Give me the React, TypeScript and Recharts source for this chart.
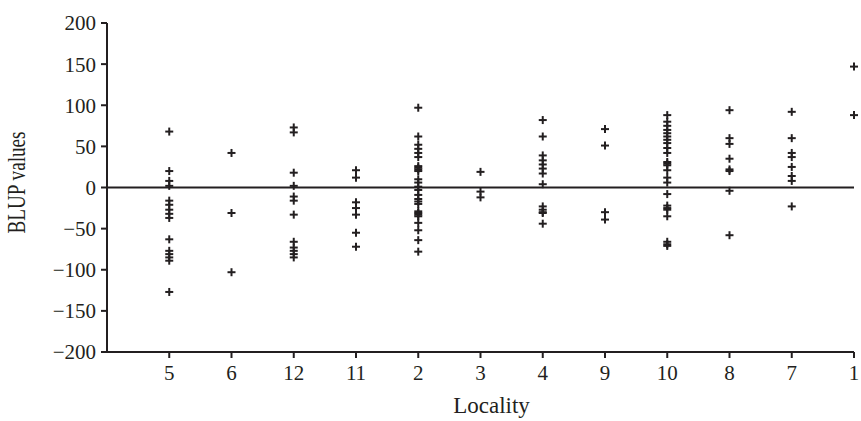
import React from "react";
import {
  ScatterChart,
  Scatter,
  XAxis,
  YAxis,
  ReferenceLine,
} from "recharts";

// locality order along the x axis
const localities = ["5", "6", "12", "11", "2", "3", "4", "9", "10", "8", "7", "1"];

// BLUP values per locality
const loc5 = [68, 20, 8, 2, -16, -21, -27, -32, -37, -63, -77, -81, -85, -89, -127];
const loc6 = [42, -31, -103];
const loc12 = [73, 67, 18, 2, -11, -16, -33, -66, -73, -77, -81, -85];
const loc11 = [21, 12, -18, -25, -33, -55, -72];
const loc2 = [
  97, 62, 52, 47, 42, 37, 26, 24, 22, 20, 10, 6, 1, -3, -9, -14, -17, -20, -29,
  -31, -33, -35, -43, -52, -64, -78,
];
const loc3 = [19, -5, -12];
const loc4 = [82, 62, 39, 33, 28, 23, 17, 4, -23, -27, -30, -31, -44];
const loc9 = [71, 51, -30, -39];
const loc10 = [
  88, 80, 75, 70, 66, 62, 58, 54, 48, 42, 31, 29, 27, 21, 12, 6, -8, -22, -25,
  -27, -35, -66, -69, -71,
];
const loc8 = [94, 60, 53, 35, 22, 20, -4, -58];
const loc7 = [92, 60, 42, 37, 25, 14, 8, -23];
const loc1 = [147, 88];

const blup = [loc5, loc6, loc12, loc11, loc2, loc3, loc4, loc9, loc10, loc8, loc7, loc1];

const yTicks = [-200, -150, -100, -50, 0, 50, 100, 150, 200];

const points = localities.flatMap((_, i) =>
  blup[i].map((v) => ({ x: i + 1, y: v }))
);

const ink = "#231f20";
const font = "'Liberation Serif', 'Times New Roman', serif";

const Plus = (props: any) => {
  const { cx, cy } = props;
  if (cx == null || cy == null) return null;
  return (
    <g stroke={ink} strokeWidth={2}>
      <line x1={cx - 4} y1={cy} x2={cx + 4} y2={cy} />
      <line x1={cx} y1={cy - 4} x2={cx} y2={cy + 4} />
    </g>
  );
};

// the source's axis title is condensed along its length
const YLabel = (props: any) => {
  const { viewBox } = props;
  const cx = 25;
  const cy = viewBox.y + viewBox.height / 2 - 5;
  return (
    <text
      x={cx}
      y={cy}
      transform={`rotate(-90 ${cx} ${cy})`}
      textAnchor="middle"
      fill={ink}
      fontSize={25}
      fontFamily={font}
      textLength={102}
      lengthAdjust="spacingAndGlyphs"
    >
      BLUP values
    </text>
  );
};

const XLabel = (props: any) => {
  const { viewBox } = props;
  const cx = viewBox.x + viewBox.width / 2 + 11;
  return (
    <text
      x={cx}
      y={413}
      textAnchor="middle"
      fill={ink}
      fontSize={23}
      fontFamily={font}
    >
      Locality
    </text>
  );
};

const App = () => {
  return (
    <div style={{ position: "absolute", left: 0, top: 0, background: "#fff" }}>
      <ScatterChart
        width={861}
        height={421}
        margin={{ top: 23, right: 7, bottom: 0, left: 0 }}
      >
        <XAxis
          type="number"
          dataKey="x"
          domain={[0, 12]}
          ticks={[1, 2, 3, 4, 5, 6, 7, 8, 9, 10, 11, 12]}
          tickFormatter={(v) => localities[v - 1]}
          height={69}
          axisLine={{ stroke: ink, strokeWidth: 2 }}
          tickLine={{ stroke: ink, strokeWidth: 2 }}
          tickSize={6}
          tickMargin={7}
          tick={{ fill: ink, fontSize: 21, fontFamily: font }}
          label={<XLabel />}
        />
        <YAxis
          type="number"
          dataKey="y"
          domain={[-200, 200]}
          ticks={yTicks}
          width={107}
          interval={0}
          axisLine={{ stroke: ink, strokeWidth: 2 }}
          tickLine={{ stroke: ink, strokeWidth: 2 }}
          tickSize={6}
          tickMargin={5}
          tickFormatter={(v) => (v < 0 ? "\u2212" + Math.abs(v) : String(v))}
          tick={{ fill: ink, fontSize: 21, fontFamily: font }}
          label={<YLabel />}
        />
        <ReferenceLine y={0} stroke={ink} strokeWidth={2} />
        <Scatter data={points} shape={<Plus />} isAnimationActive={false} />
      </ScatterChart>
    </div>
  );
};

export default App;
